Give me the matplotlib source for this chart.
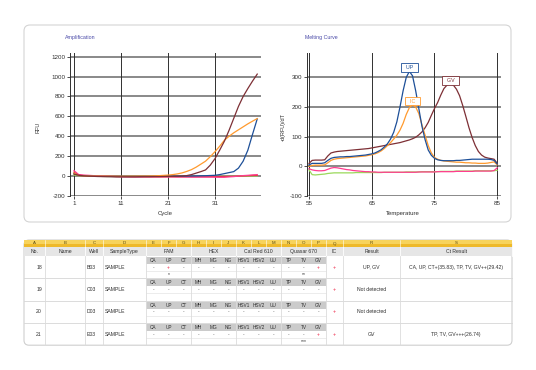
import matplotlib.pyplot as plt
import numpy as np
from matplotlib.patches import FancyBboxPatch, Rectangle

plt.rcParams['font.family'] = ['Liberation Sans', 'DejaVu Sans']
plt.rcParams['axes.unicode_minus'] = False

W, H = 536, 370

# ---------------- data: amplification (RFU per cycle) ----------------
cycles = list(range(1, 41))
amp_gv = [20, 8, 3, 0, -2, -4, -5, -6, -6, -7, -7, -7, -7, -7, -6, -6, -6, -5, -5, -4,
          -3, -2, -1, 0, 5, 15, 30, 45, 62, 110, 175, 260, 350, 460, 580, 700, 800, 880, 955, 1025]
amp_ic = [30, 5, 2, 1, 0, 0, -1, -1, -2, -2, -2, -2, -1, -1, 0, 0, 1, 2, 4, 7,
          10, 15, 22, 32, 47, 65, 90, 120, 150, 195, 245, 300, 360, 400, 435, 465, 495, 525, 552, 578]
amp_up = [25, 6, 2, 0, -1, -2, -3, -3, -4, -4, -4, -4, -4, -4, -4, -3, -3, -3, -2, -2,
          -2, -1, -1, 0, 0, 1, 2, 3, 4, 6, 8, 15, 25, 35, 45, 80, 150, 260, 420, 575]
amp_pink = [55, 15, 10, 8, 5, 2, 0, -2, -3, -5, -6, -7, -7, -8, -8, -8, -8, -8, -8, -8,
            -8, -8, -9, -9, -9, -10, -10, -10, -10, -10, -11, -12, -12, -8, -5, 0, 5, 8, 12, 15]
amp_green = [10, 5, 2, 0, -1, -2, -3, -4, -4, -5, -5, -5, -5, -5, -5, -5, -5, -5, -5, -5,
             -5, -5, -5, -4, -4, -4, -4, -3, -3, -3, -3, -3, -2, -2, -1, -1, 0, 0, 1, 2]
amp_red = [40, 12, 6, 3, 1, 0, -1, -2, -3, -4, -5, -5, -6, -6, -6, -6, -6, -6, -6, -6,
           -6, -6, -6, -6, -6, -6, -6, -6, -6, -6, -5, -5, -4, -3, -2, 0, 2, 4, 6, 8]

# ---------------- data: melting curve (-d(RFU)/dT) ----------------
temps = np.arange(55, 85.01, 0.5)
mc_up = [5, 10, 10, 10, 10, 12, 20, 27, 30, 31, 32, 32, 33, 33, 34, 35, 36, 37, 38, 40,
         42, 45, 50, 56, 65, 76, 92, 115, 150, 200, 255, 300, 320, 305, 255, 195, 135, 90, 55, 37,
         27, 22, 20, 19, 19, 19, 19, 20, 20, 21, 22, 23, 24, 24, 24, 24, 24, 24, 23, 20, 8]
mc_ic = [0, 3, 4, 4, 4, 5, 12, 20, 24, 26, 27, 28, 29, 30, 31, 32, 33, 34, 35, 37,
         39, 42, 46, 52, 60, 70, 80, 92, 105, 122, 145, 175, 198, 207, 200, 178, 140, 105, 70, 45,
         30, 24, 20, 18, 17, 16, 15, 14, 14, 13, 12, 12, 11, 11, 10, 10, 10, 11, 13, 15, 5]
mc_gv = [10, 20, 21, 21, 21, 22, 35, 45, 48, 50, 51, 52, 53, 54, 55, 56, 57, 58, 59, 60,
         62, 64, 66, 68, 70, 72, 74, 76, 78, 80, 83, 86, 89, 93, 98, 106, 116, 130, 148, 172,
         195, 215, 240, 262, 274, 278, 274, 260, 238, 205, 168, 130, 97, 70, 50, 38, 31, 28, 26, 24, 10]
mc_pink = [-8, -12, -14, -15, -15, -14, -10, -6, -4, -5, -7, -9, -11, -12, -14, -15, -16, -17, -18, -18,
           -19, -19, -20, -20, -20, -20, -20, -20, -20, -20, -20, -20, -20, -20, -20, -19, -19, -19, -19, -19,
           -19, -18, -18, -18, -18, -18, -18, -17, -17, -17, -17, -17, -17, -16, -16, -16, -16, -16, -16, -14, -5]
mc_green = [-12, -28, -29, -28, -27, -26, -24, -23, -22, -22, -22, -22, -22, -22, -22, -21, -21, -21, -21, -21,
            -21, -21, -21, -21, -20, -20, -20, -20, -20, -20, -20, -19, -19, -19, -19, -19, -18, -18, -18, -18,
            -18, -18, -17, -17, -17, -17, -17, -16, -16, -16, -16, -16, -16, -15, -15, -15, -15, -15, -15, -15, -13]

# ---------------- data: result table ----------------
col_letters = list("ABCDEFGHIJKLMNOPQRS")
targets = ['CA', 'UP', 'CT', 'MH', 'MG', 'NG', 'HSV1', 'HSV2', 'UU', 'TP', 'TV', 'GV']
dyes = ['FAM', 'HEX', 'Cal Red 610', 'Quasar 670']
row_no = ['18', '19', '20', '21']
wells = ['B03', 'C03', 'D03', 'E03']
sample_types = ['SAMPLE', 'SAMPLE', 'SAMPLE', 'SAMPLE']
positives = [['UP', 'GV'], [], [], ['GV']]
stars = [{'UP': '*', 'TV': '**'}, {}, {}, {'TV': '***'}]
results = ['UP, GV', 'Not detected', 'Not detected', 'GV']
ct_results = ['CA, UP, CT+(35.83), TP, TV, GV++(29.42)', '', '', 'TP, TV, GV+++(26.74)']

C_GV, C_IC, C_UP = '#7d2f35', '#ff9a2e', '#1d4f98'
C_PINK, C_GREEN, C_RED = '#ff3d8f', '#9ad85a', '#e0303a'

fig = plt.figure(figsize=(W / 100, H / 100), dpi=100)
fig.patch.set_facecolor('white')

# overlay axes in pixel coords for panels and table
bg = fig.add_axes([0, 0, 1, 1])
bg.set_xlim(0, W)
bg.set_ylim(H, 0)
bg.axis('off')

bg.add_patch(FancyBboxPatch((24, 25), 487, 197, boxstyle='round,pad=0,rounding_size=6',
                            fc='white', ec='#d4d4d4', lw=0.8))


def axes_px(l, t, r, b):
    return fig.add_axes([l / W, 1 - b / H, (r - l) / W, (b - t) / H])


def style_chart(ax, xt, yt):
    ax.set_xticks(xt)
    ax.set_yticks(yt)
    for y in yt:
        ax.axhline(y, color='#808080', lw=1.3, zorder=1)
    for x in xt:
        ax.axvline(x, color='#303030', lw=0.7, zorder=1)
    for s in ['top', 'right', 'bottom']:
        ax.spines[s].set_visible(False)
    ax.spines['left'].set_color('#303030')
    ax.spines['left'].set_linewidth(0.7)
    ax.tick_params(labelsize=4.5, length=2, width=0.6, pad=1.5, colors='#303030')


# ---- amplification ----
ax1 = axes_px(70, 53, 261, 196)
style_chart(ax1, [1, 11, 21, 31], list(range(-200, 1201, 200)))
ax1.set_xlim(0.15, 40.8)
ax1.set_ylim(-200, 1237)
for vals, c in [(amp_green, C_GREEN), (amp_red, C_RED), (amp_pink, C_PINK),
                (amp_up, C_UP), (amp_ic, C_IC), (amp_gv, C_GV)]:
    ax1.plot(cycles, vals, color=c, lw=0.9, zorder=3)
fig.text(65 / W, 1 - 37 / H, 'Amplification', fontsize=3.8, color='#4a4aa8', va='center')
fig.text(38 / W, 1 - 127 / H, 'RFU', fontsize=4, rotation=90, ha='center', va='center', color='#303030')
fig.text(165 / W, 1 - 213 / H, 'Cycle', fontsize=4.3, ha='center', va='center', color='#303030')

# ---- melting curve ----
ax2 = axes_px(307, 53, 501, 196)
style_chart(ax2, [55, 65, 75, 85], [-100, 0, 100, 200, 300])
ax2.set_xlim(54.68, 85.6)
ax2.set_ylim(-100, 382)
for vals, c in [(mc_green, C_GREEN), (mc_pink, C_PINK), (mc_gv, C_GV),
                (mc_ic, C_IC), (mc_up, C_UP)]:
    ax2.plot(temps, vals, color=c, lw=0.9, zorder=3)
for txt, xv, yv, c in [('UP', 71.0, 332, C_UP), ('IC', 71.5, 220, C_IC), ('GV', 77.6, 289, C_GV)]:
    ax2.text(xv, yv, '  ' + txt + '  ', fontsize=3.8, color=c, ha='center', va='center', zorder=5,
             bbox=dict(boxstyle='square,pad=0.35', fc='white', ec=c, lw=0.6))
fig.text(305 / W, 1 - 37 / H, 'Melting Curve', fontsize=3.8, color='#4a4aa8', va='center')
fig.text(283 / W, 1 - 127 / H, '-d(RFU)/dT', fontsize=4, rotation=90, ha='center', va='center', color='#303030')
fig.text(403 / W, 1 - 213 / H, 'Temperature', fontsize=4.3, ha='center', va='center', color='#303030')

# ---------------- table ----------------
edges = [24, 45, 85, 103, 146, 161, 176, 191, 206, 221, 236, 251, 266, 281, 296, 311, 326, 343, 400, 512]
t_top, t_hdr, t_body, blk = 240, 247, 256, 22.3
t_bot = t_body + blk * len(row_no)
fs = 3.7

bg.add_patch(FancyBboxPatch((24, t_top), 488, t_bot - t_top, boxstyle='round,pad=0,rounding_size=5',
                            fc='white', ec='#cfcfcf', lw=0.8, zorder=1))
# letter row (yellow)
for i, L in enumerate(col_letters):
    x0, x1 = edges[i], edges[i + 1]
    bg.add_patch(Rectangle((x0, t_top), x1 - x0, 3.5, fc='#f7d35c', ec='none', zorder=2))
    bg.add_patch(Rectangle((x0, t_top + 3.5), x1 - x0, t_hdr - t_top - 3.5, fc='#eeb92a', ec='none', zorder=2))
    bg.plot([x1, x1], [t_top, t_hdr], color='white', lw=0.4, zorder=3)
    bg.text((x0 + x1) / 2, (t_top + t_hdr) / 2, L, fontsize=3.2, ha='center', va='center', color='#5a4a10', zorder=4)

# header row
bg.add_patch(Rectangle((24, t_hdr), 488, t_body - t_hdr, fc='#e6e6e6', ec='none', zorder=2))
hdr_cells = [(0, 1, 'No.'), (1, 2, 'Name'), (2, 3, 'Well'), (3, 4, 'SampleType')]
for k, d in enumerate(dyes):
    hdr_cells.append((4 + 3 * k, 7 + 3 * k, d))
hdr_cells += [(16, 17, 'IC'), (17, 18, 'Result'), (18, 19, 'Ct Result')]
for a, b, txt in hdr_cells:
    bg.text((edges[a] + edges[b]) / 2, (t_hdr + t_body) / 2, txt, fontsize=fs, ha='center', va='center',
            color='#303030', zorder=4)
    bg.plot([edges[b], edges[b]], [t_hdr, t_body], color='white', lw=0.6, zorder=3)

# body rows
major = [1, 2, 3, 4, 7, 10, 13, 16, 17, 18]
for r in range(len(row_no)):
    y0 = t_body + r * blk
    ym = y0 + blk / 2
    if r > 0:
        bg.plot([24, 512], [y0, y0], color='#d6d6d6', lw=0.6, zorder=3)
    bg.text(42, ym, row_no[r], fontsize=fs, ha='right', va='center', color='#303030', zorder=4)
    bg.text(edges[2] + 1.5, ym, wells[r], fontsize=fs, ha='left', va='center', color='#303030', zorder=4)
    bg.text(edges[3] + 2, ym, sample_types[r], fontsize=fs, ha='left', va='center', color='#303030', zorder=4)
    bg.text((edges[16] + edges[17]) / 2, ym, '+', fontsize=4, ha='center', va='center', color='#ee2244', zorder=4)
    bg.text((edges[17] + edges[18]) / 2, ym, results[r], fontsize=fs, ha='center', va='center', color='#303030', zorder=4)
    bg.text((edges[18] + edges[19]) / 2, ym, ct_results[r], fontsize=fs, ha='center', va='center', color='#303030', zorder=4)
    for j, t in enumerate(targets):
        x0, x1 = edges[4 + j], edges[5 + j]
        bg.add_patch(Rectangle((x0 + 0.4, y0 + 1), x1 - x0 - 0.8, 7, fc='#cbcbcb', ec='none', zorder=2))
        bg.text((x0 + x1) / 2, y0 + 4.5, t, fontsize=3.4, ha='center', va='center', color='#303030', zorder=4)
        pos = t in positives[r]
        bg.text((x0 + x1) / 2, y0 + 11.5, '+' if pos else '-', fontsize=3.4, ha='center', va='center',
                color='#ee2244' if pos else '#606060', zorder=4)
        if t in stars[r]:
            bg.text((x0 + x1) / 2, y0 + 19, stars[r][t], fontsize=3.6, ha='center', va='center',
                    color='#303030', zorder=4)
    bg.plot([edges[4], edges[16]], [y0 + 15, y0 + 15], color='#e4e4e4', lw=0.5, zorder=3)
    for k in major:
        ya = y0 + (8 if 4 < k < 16 and k not in (7, 10, 13) else 0)
        bg.plot([edges[k], edges[k]], [ya, y0 + blk], color='#dcdcdc', lw=0.6, zorder=3)

fig.savefig('out.png', dpi=100)
